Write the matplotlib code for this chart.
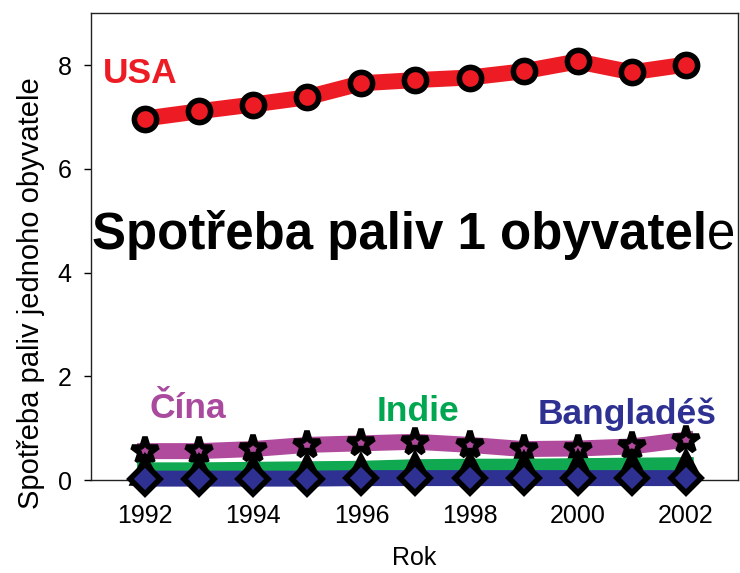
import matplotlib
matplotlib.use("Agg")
import matplotlib.pyplot as plt

plt.rcParams['font.family'] = ['Liberation Sans', 'DejaVu Sans']

years = [1992, 1993, 1994, 1995, 1996, 1997, 1998, 1999, 2000, 2001, 2002]
usa = [6.97, 7.11, 7.24, 7.38, 7.65, 7.71, 7.76, 7.88, 8.07, 7.86, 8.01]
cina = [0.56, 0.56, 0.60, 0.68, 0.71, 0.74, 0.68, 0.60, 0.61, 0.65, 0.78]
indie = [0.19, 0.19, 0.20, 0.21, 0.22, 0.25, 0.26, 0.26, 0.27, 0.28, 0.29]
banglades = [0.03, 0.03, 0.03, 0.03, 0.04, 0.04, 0.04, 0.04, 0.04, 0.04, 0.04]
xticks = [1992, 1994, 1996, 1998, 2000, 2002]
yticks = [0, 2, 4, 6, 8]

c_usa = '#ED1C24'
c_cina = '#B04A9C'
c_indie = '#10A850'
c_bang = '#2E3192'

fig = plt.figure(figsize=(7.4, 5.73), dpi=100)
ax = fig.add_axes([0.123, 0.162, 0.874, 0.815])

lw = 11.5
ax.plot(years, usa, color=c_usa, lw=lw, marker='o', ms=16, mfc=c_usa,
        mec='black', mew=4, clip_on=False, zorder=3)
ax.plot(years, cina, color=c_cina, lw=lw, marker='*', ms=20, mfc=c_cina,
        mec='black', mew=4, clip_on=False, zorder=3)
ax.plot(years, indie, color=c_indie, lw=lw, marker='^', ms=18, mfc=c_bang,
        mec='black', mew=4, clip_on=False, zorder=3)
ax.plot(years, banglades, color=c_bang, lw=lw, marker='D', ms=15, mfc=c_bang,
        mec='black', mew=4, clip_on=False, zorder=3)

ax.set_xlim(1991.0, 2002.96)
ax.set_ylim(0, 9)
ax.set_xticks(xticks)
ax.set_xticklabels([str(x) for x in xticks])
ax.set_yticks(yticks)
ax.tick_params(axis='x', length=0, pad=17, labelsize=18)
ax.tick_params(axis='y', length=5, width=1, pad=9, labelsize=18, direction='out')
for s in ax.spines.values():
    s.set_linewidth(1.0)
    s.set_color('#222222')

ax.set_xlabel('Rok', fontsize=18, labelpad=13)
ax.set_ylabel('Spotřeba paliv jednoho obyvatele', fontsize=21)
ax.yaxis.set_label_coords(-0.071, 0.40)

lab_fs = 25.5
ax.text(1991.22, 7.65, 'USA', color=c_usa, fontsize=lab_fs, fontweight='bold', va='baseline')
ax.text(1992.09, 1.20, 'Čína', color='#A94A9E', fontsize=lab_fs, fontweight='bold', va='baseline')
ax.text(1996.29, 1.14, 'Indie', color='#00A650', fontsize=lab_fs, fontweight='bold', va='baseline')
ax.text(1999.26, 1.08, 'Bangladéš', color=c_bang, fontsize=lab_fs, fontweight='bold', va='baseline')

ty = 4.45
tfs = 36.7
t1 = ax.text(1991.02, ty, 'Spotřeba paliv 1 obyvatel', color='black', fontsize=tfs,
             fontweight='bold', va='baseline', clip_on=False)
fig.canvas.draw()
bb = t1.get_window_extent()
xa = ax.transAxes.inverted().transform((bb.x1, bb.y0))[0]
ya = ax.transData.transform((1991, ty))
ya = ax.transAxes.inverted().transform(ya)[1]
ax.text(xa, ya, 'e', transform=ax.transAxes, color='black', fontsize=tfs,
        fontweight='normal', va='baseline', clip_on=False)

fig.savefig('out.png', dpi=100)
